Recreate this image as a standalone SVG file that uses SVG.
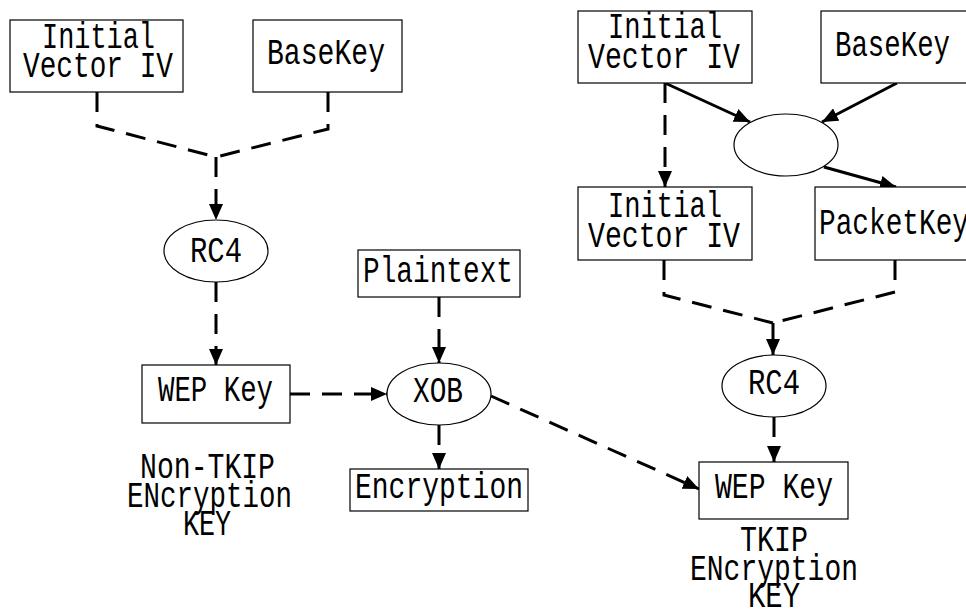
<svg xmlns="http://www.w3.org/2000/svg" width="966" height="610" viewBox="0 0 966 610">
<defs>
<style>
.box{fill:#fff;stroke:#000;stroke-width:1.2}
.t{font-family:"Liberation Mono","DejaVu Sans Mono",monospace;font-size:36px;fill:#000}
.d{fill:none;stroke:#000;stroke-width:3;stroke-dasharray:20 12}
.s{fill:none;stroke:#000;stroke-width:3}
</style>
<marker id="ah" markerUnits="userSpaceOnUse" markerWidth="16" markerHeight="14" viewBox="0 0 16 14" refX="16" refY="7" orient="auto">
<path d="M0,0 L16,7 L0,14 Z" fill="#000"/>
</marker>
</defs>
<rect width="966" height="610" fill="#fff"/>
<g id="connectors">
<polyline class="d" points="97,92 97,126 216,157"/>
<polyline class="d" points="328,92 328,129 216,157"/>
<line class="d" x1="216" y1="157" x2="216" y2="220" marker-end="url(#ah)"/>
<line class="d" x1="216" y1="282" x2="216" y2="365" marker-end="url(#ah)"/>
<line class="d" x1="290" y1="394" x2="387" y2="394" marker-end="url(#ah)"/>
<line class="d" x1="439" y1="297" x2="439" y2="363" marker-end="url(#ah)"/>
<line class="d" x1="439" y1="425" x2="439" y2="469" marker-end="url(#ah)"/>
<line class="d" x1="491" y1="396" x2="699" y2="489" marker-end="url(#ah)"/>
<line class="s" x1="665" y1="83" x2="750" y2="122" marker-end="url(#ah)"/>
<line class="s" x1="897" y1="83" x2="822" y2="122" marker-end="url(#ah)"/>
<line class="s" x1="824" y1="167" x2="896" y2="187" marker-end="url(#ah)"/>
<line class="d" x1="665" y1="83" x2="665" y2="187" marker-end="url(#ah)"/>
<polyline class="d" points="664,260 664,295 773,323"/>
<polyline class="d" points="895,260 895,292 773,323"/>
<line class="s" x1="773" y1="323" x2="773" y2="355" marker-end="url(#ah)"/>
<line class="d" x1="774" y1="417" x2="774" y2="462" marker-end="url(#ah)"/>
</g>
<g id="n-iv1"><rect class="box" x="10" y="20" width="173" height="72"/>
<text class="t" x="42" y="48" textLength="113" lengthAdjust="spacingAndGlyphs">Initial</text>
<text class="t" x="23" y="77" textLength="150" lengthAdjust="spacingAndGlyphs">Vector IV</text></g>
<g id="n-basekey1"><rect class="box" x="253" y="20" width="149" height="72"/>
<text class="t" x="267" y="64" textLength="118" lengthAdjust="spacingAndGlyphs">BaseKey</text></g>
<g id="n-rc4-1"><ellipse class="box" cx="216" cy="251" rx="52" ry="31"/>
<text class="t" x="190" y="262" textLength="52" lengthAdjust="spacingAndGlyphs">RC4</text></g>
<g id="n-wep1"><rect class="box" x="142" y="365" width="148" height="58"/>
<text class="t" x="158" y="401" textLength="115" lengthAdjust="spacingAndGlyphs">WEP Key</text></g>
<g id="n-plain"><rect class="box" x="358" y="250" width="162" height="47"/>
<text class="t" x="363" y="282" textLength="150" lengthAdjust="spacingAndGlyphs">Plaintext</text></g>
<g id="n-xob"><ellipse class="box" cx="439" cy="394" rx="52" ry="31"/>
<text class="t" x="413" y="402" textLength="50" lengthAdjust="spacingAndGlyphs">XOB</text></g>
<g id="n-enc"><rect class="box" x="350" y="469" width="178" height="42"/>
<text class="t" x="355" y="498" textLength="168" lengthAdjust="spacingAndGlyphs">Encryption</text></g>
<g id="n-label1">
<text class="t" x="140" y="478" textLength="135" lengthAdjust="spacingAndGlyphs">Non-TKIP</text>
<text class="t" x="127" y="507" textLength="165" lengthAdjust="spacingAndGlyphs">ENcryption</text>
<text class="t" x="183" y="535" textLength="48" lengthAdjust="spacingAndGlyphs">KEY</text></g>
<g id="n-iv2"><rect class="box" x="578" y="11" width="174" height="72"/>
<text class="t" x="608" y="38" textLength="114" lengthAdjust="spacingAndGlyphs">Initial</text>
<text class="t" x="588" y="68" textLength="152" lengthAdjust="spacingAndGlyphs">Vector IV</text></g>
<g id="n-basekey2"><rect class="box" x="821" y="11" width="150" height="72"/>
<text class="t" x="835" y="56" textLength="115" lengthAdjust="spacingAndGlyphs">BaseKey</text></g>
<g id="n-mix"><ellipse class="box" cx="786" cy="145" rx="52" ry="31"/></g>
<g id="n-iv3"><rect class="box" x="578" y="187" width="174" height="73"/>
<text class="t" x="608" y="217" textLength="114" lengthAdjust="spacingAndGlyphs">Initial</text>
<text class="t" x="588" y="247" textLength="152" lengthAdjust="spacingAndGlyphs">Vector IV</text></g>
<g id="n-packet"><rect class="box" x="815" y="187" width="160" height="73"/>
<text class="t" x="819" y="234" textLength="150" lengthAdjust="spacingAndGlyphs">PacketKey</text></g>
<g id="n-rc4-2"><ellipse class="box" cx="774" cy="386" rx="52" ry="31"/>
<text class="t" x="748" y="394" textLength="52" lengthAdjust="spacingAndGlyphs">RC4</text></g>
<g id="n-wep2"><rect class="box" x="699" y="462" width="149" height="57"/>
<text class="t" x="715" y="498" textLength="118" lengthAdjust="spacingAndGlyphs">WEP Key</text></g>
<g id="n-label2">
<text class="t" x="740" y="551" textLength="68" lengthAdjust="spacingAndGlyphs">TKIP</text>
<text class="t" x="690" y="580" textLength="168" lengthAdjust="spacingAndGlyphs">ENcryption</text>
<text class="t" x="748" y="607" textLength="52" lengthAdjust="spacingAndGlyphs">KEY</text></g>
</svg>
